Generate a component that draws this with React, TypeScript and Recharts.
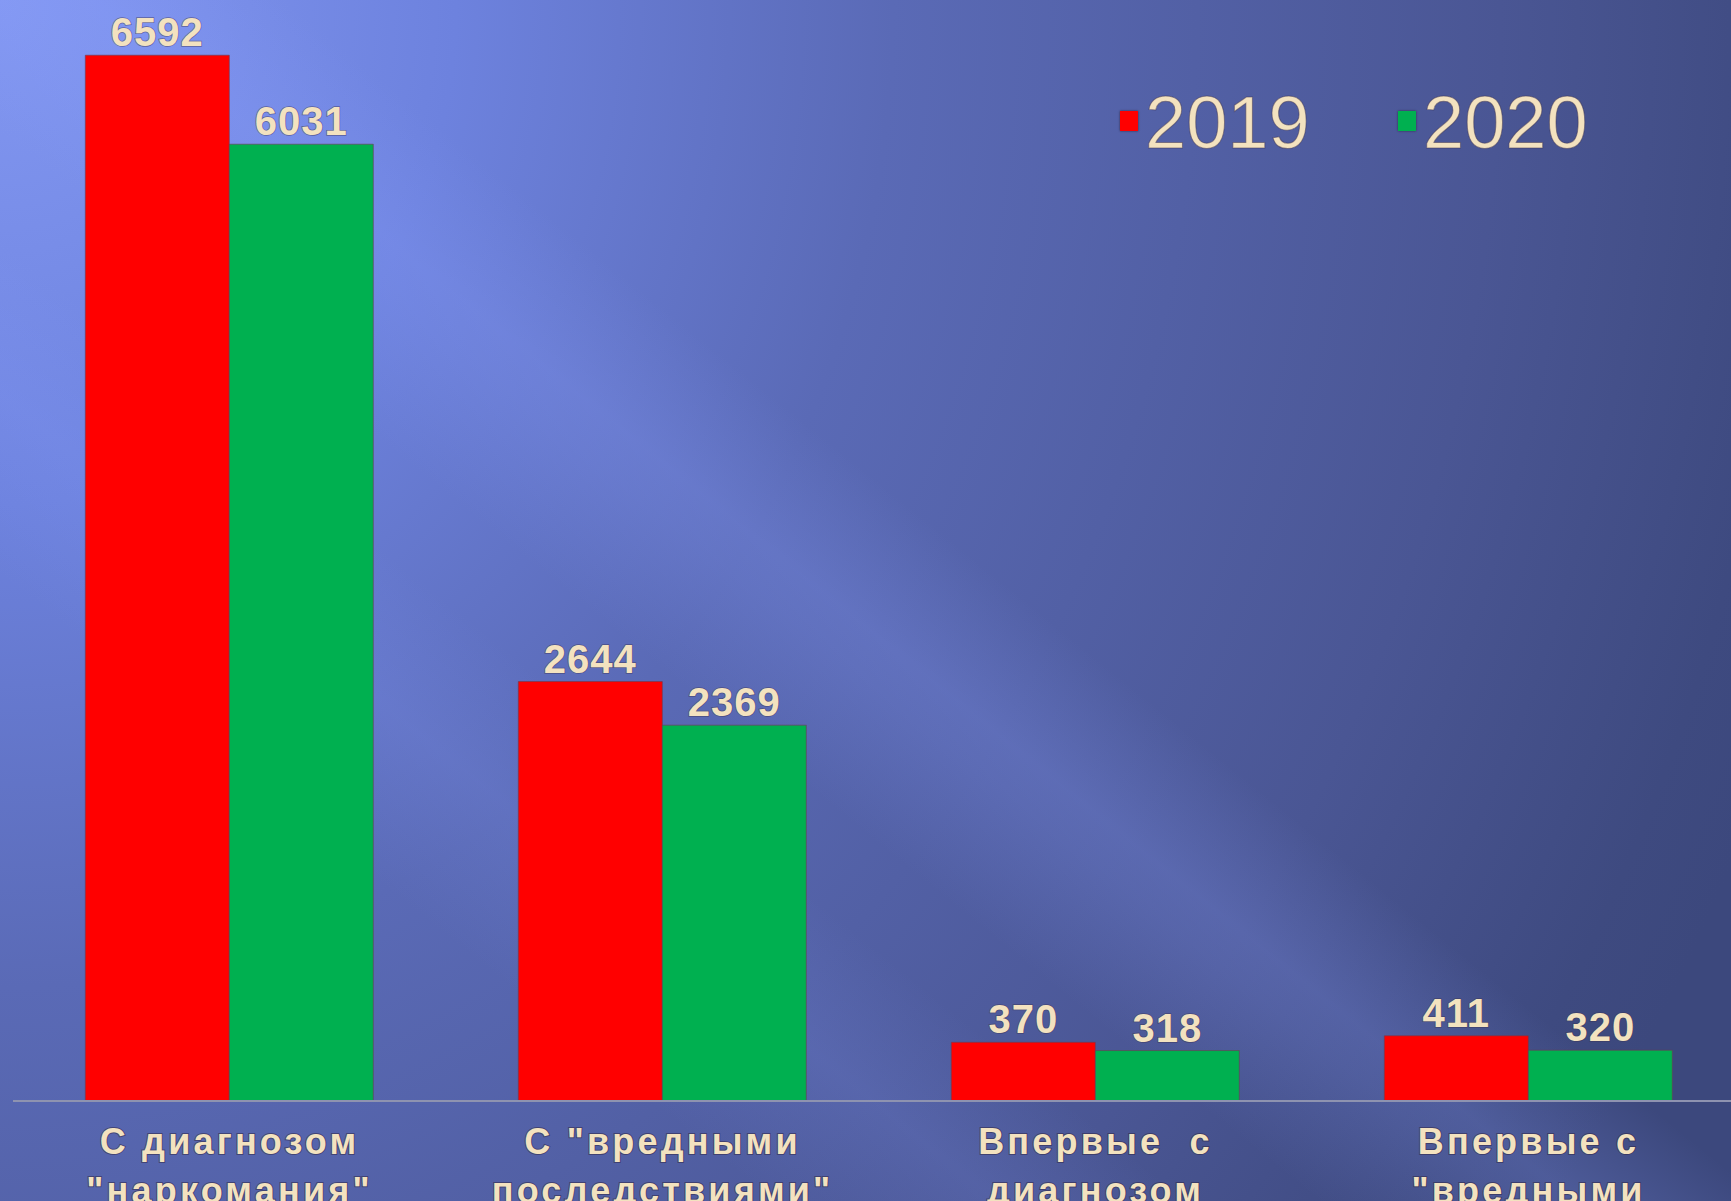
import { BarChart, Bar, XAxis, YAxis, Legend, LabelList } from 'recharts'

const categories = [
  'С диагнозом "наркомания"',
  'С "вредными последствиями"',
  'Впервые с диагнозом "наркомания"',
  'Впервые с "вредными последствиями"',
]
const categoryLines = [
  ['С диагнозом', '"наркомания"'],
  ['С "вредными', 'последствиями"'],
  ['Впервые  с', 'диагнозом', '"наркомания"'],
  ['Впервые с', '"вредными', 'последствиями"'],
]
const values2019 = [6592, 2644, 370, 411]
const values2020 = [6031, 2369, 318, 320]
const seriesNames = ['2019', '2020']
const seriesColors = ['#ff0000', '#00b050']

const data = categories.map((name, i) => ({
  name,
  v2019: values2019[i],
  v2020: values2020[i],
}))

const cream = '#f3e2bf'
const font = '"Liberation Sans", Arial, sans-serif'

function CategoryTick(props: any) {
  const { x, y, payload } = props
  const lines = categoryLines[payload.index] ?? [payload.value]
  return (
    <text
      x={x}
      y={y}
      textAnchor="middle"
      fill={cream}
      fontSize={36}
      fontWeight="bold"
      fontFamily={font}
      letterSpacing={3.2}
      stroke="rgba(50,40,70,0.55)"
      strokeWidth={2}
      style={{ paintOrder: 'stroke', whiteSpace: 'pre' }}
    >
      {lines.map((l: string, i: number) => (
        <tspan key={i} x={x} dy={i === 0 ? 53 : 49}>
          {l}
        </tspan>
      ))}
    </text>
  )
}

function renderLegend(props: any) {
  const { payload } = props
  return (
    <div style={{ display: 'flex', fontFamily: font }}>
      {(payload ?? []).map((p: any, i: number) => (
        <div key={i} style={{ display: 'flex', alignItems: 'center', width: i === 0 ? 278 : 'auto' }}>
          <span
            style={{
              display: 'inline-block',
              width: 18,
              height: 20,
              background: p.color,
              boxShadow: '0 0 2px rgba(40,30,50,0.8)',
              marginRight: 7,
              marginBottom: 5,
            }}
          />
          <span
            style={{
              fontSize: 74,
              lineHeight: '74px',
              color: cream,
              WebkitTextStroke: '1px rgba(60,50,80,0.5)',
            }}
          >
            {p.value}
          </span>
        </div>
      ))}
    </div>
  )
}

export default function App() {
  return (
    <div
      style={{
        position: 'absolute',
        left: 0,
        top: 0,
        width: 1731,
        height: 1201,
        overflow: 'hidden',
        background: [
          'linear-gradient(39deg, rgba(140,160,255,0) 41%, rgba(140,160,255,0.18) 47%, rgba(140,160,255,0.22) 49%, rgba(140,160,255,0) 55%)',
          'linear-gradient(39deg, rgba(140,160,255,0) 24%, rgba(140,160,255,0.14) 31%, rgba(140,160,255,0) 37%)',
          'radial-gradient(1900px 2100px at 0% 0%, #8398f2 0%, #6d82de 24%, #5a6ab6 47%, #4a5694 79%, #3e4a80 95%, #3c487d 100%)',
        ].join(', '),
      }}
    >
      <BarChart
        width={1760}
        height={1201}
        data={data}
        margin={{ top: 0, right: 15, bottom: 0, left: 13 }}
        barCategoryGap="16.7%"
        barGap={0}
      >
        <XAxis
          dataKey="name"
          interval={0}
          height={100}
          tickSize={0}
          tickMargin={0}
          tickLine={false}
          axisLine={{ stroke: '#8e93b0', strokeWidth: 2 }}
          tick={<CategoryTick />}
        />
        <YAxis hide domain={[0, 6940]} />
        <Legend
          layout="horizontal"
          verticalAlign="middle"
          align="center"
          content={renderLegend}
          wrapperStyle={{ position: 'absolute', top: 86, left: 1120, width: 'auto', height: 'auto' }}
        />
        {['v2019', 'v2020'].map((key, i) => (
          <Bar
            key={key}
            dataKey={key}
            name={seriesNames[i]}
            fill={seriesColors[i]}
            stroke="rgba(110,60,80,0.6)"
            strokeWidth={1}
            isAnimationActive={false}
          >
            <LabelList
              dataKey={key}
              position="top"
              offset={9}
              fill={cream}
              fontSize={40}
              fontWeight="bold"
              fontFamily={font}
              letterSpacing={1}
              stroke="rgba(60,50,80,0.5)"
              strokeWidth={1.5}
              style={{ paintOrder: 'stroke' }}
            />
          </Bar>
        ))}
      </BarChart>
    </div>
  )
}
